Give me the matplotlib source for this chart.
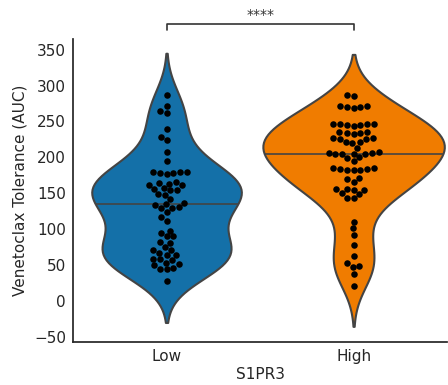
import numpy as np
import pandas as pd
import matplotlib
matplotlib.use("Agg")
import matplotlib.pyplot as plt
import seaborn as sns

# AUC values
low_auc = [287, 272, 264, 262, 239, 229, 224, 207, 195,
           180, 179, 178, 177, 178, 180,
           165, 164, 163, 162, 161,
           157, 156, 155, 154,
           149, 148, 142,
           136, 135, 134, 131, 130, 129, 124, 117,
           112, 98, 95, 90, 90, 82, 81, 75, 71, 71, 67, 64, 64,
           59, 58, 57, 53, 51, 50, 46, 45, 44, 28]
high_auc = [287, 285,
            272, 270, 269, 270, 271,
            247, 246, 245, 244, 245, 246, 247,
            235, 234, 233, 234, 235,
            227, 226, 226, 227,
            221, 220, 221, 213,
            206, 205, 205, 204, 205, 206, 207,
            200, 199, 195,
            185, 184, 183, 182, 183, 184, 185,
            171, 170, 166,
            156, 155, 155, 156, 150, 149, 144, 143,
            110, 101, 92, 78, 62, 53, 49, 47, 38, 21]
groups = ["Low", "High"]
colors = ["#1470a8", "#f07c00"]
widths = [0.8, 0.97]

df = pd.DataFrame({"S1PR3": ["Low"] * len(low_auc) + ["High"] * len(high_auc),
                   "AUC": low_auc + high_auc})

sns.set_theme(style="white", context="notebook")
fig, ax = plt.subplots(figsize=(4.48, 3.85), dpi=100)

for g, c, w in zip(groups, colors, widths):
    sns.violinplot(data=df[df.S1PR3 == g], x="S1PR3", y="AUC", order=groups,
                   color=c, inner=None, width=w, saturation=1, linewidth=1.5,
                   linecolor="#444444", ax=ax)
sns.swarmplot(data=df, x="S1PR3", y="AUC", order=groups, color="black",
              size=4.7, ax=ax)

# median line, clipped to the violin outline
for i, g in enumerate(groups):
    med = np.median(df.loc[df.S1PR3 == g, "AUC"])
    ln, = ax.plot([i - 0.5, i + 0.5], [med, med], color="#444444", lw=1.2)
    ln.set_clip_path(ax.collections[i].get_paths()[0], ax.transData)

ax.set_xlim(-0.5, 1.5)
ax.set_ylim(-57, 365)
ax.set_yticks(np.arange(-50, 351, 50))
ax.tick_params(axis="both", labelsize=11, pad=5, length=0)
ax.set_xlabel("S1PR3", fontsize=11, labelpad=2)
ax.set_ylabel("Venetoclax Tolerance (AUC)", fontsize=11, labelpad=5)

# significance bracket
y_br = 386
ax.plot([0, 0, 1, 1], [378, y_br, y_br, 378], color="#333333", lw=1.2,
        clip_on=False)
ax.text(0.5, y_br + 3, "****", ha="center", va="bottom", fontsize=10,
        color="#333333")

sns.despine()
fig.subplots_adjust(left=0.163, right=0.998, bottom=0.112, top=0.899)
fig.savefig("out.png", dpi=100)
